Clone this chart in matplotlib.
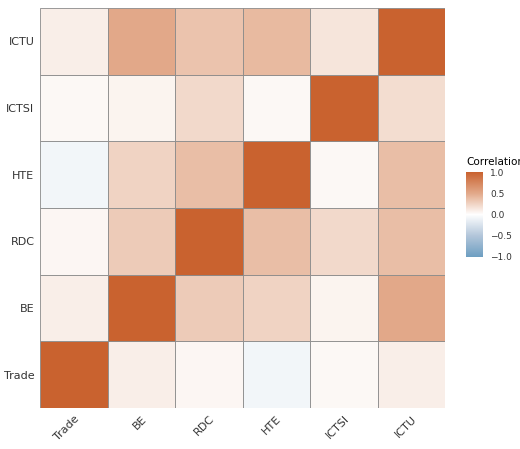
import numpy as np
import matplotlib
matplotlib.use("Agg")
import matplotlib.pyplot as plt
from matplotlib.colors import LinearSegmentedColormap

labels = ["Trade", "BE", "RDC", "HTE", "ICTSI", "ICTU"]
corr = np.array([
  [1.00, 0.10, 0.05, -0.08, 0.04, 0.10],
  [0.10, 1.00, 0.30, 0.25, 0.07, 0.50],
  [0.05, 0.30, 1.00, 0.38, 0.22, 0.38],
  [-0.08, 0.25, 0.38, 1.00, 0.04, 0.38],
  [0.04, 0.07, 0.22, 0.04, 1.00, 0.20],
  [0.10, 0.50, 0.35, 0.40, 0.15, 1.00],
])

# Lab-ish interpolation like ggplot: darker mid-tones
cmap = LinearSegmentedColormap.from_list(
  "corr", [(0, "#6D9EC1"), (0.25, "#B3C6DA"), (0.5, "white"),
           (0.75, "#E2A98A"), (1, "#C9622F")])

fig = plt.figure(figsize=(5.2, 4.49), dpi=100)
ax = fig.add_axes([40/520, 41/449, 405/520, 400/449])
n = len(labels)
for i in range(n):
  for j in range(n):
    ax.add_patch(plt.Rectangle((j, i), 1, 1, facecolor=cmap((corr[i, j] + 1) / 2),
                               edgecolor="#8a8a8a", linewidth=0.6))
ax.set_xlim(0, n)
ax.set_ylim(0, n)
ax.set_xticks(np.arange(n) + 0.5)
ax.set_yticks(np.arange(n) + 0.5)
ax.set_xticklabels(labels, rotation=45, ha="right", rotation_mode="anchor", fontsize=8, color="#333333")
ax.set_yticklabels(labels, fontsize=8, color="#333333")
ax.tick_params(length=0, pad=4)
for s in ax.spines.values():
  s.set_visible(False)

cax = fig.add_axes([466/520, (449-257)/449, 17/520, 85/449])
sm = plt.cm.ScalarMappable(cmap=cmap, norm=plt.Normalize(-1, 1))
cb = fig.colorbar(sm, cax=cax, ticks=[-1, -0.5, 0, 0.5, 1])
cb.ax.set_yticklabels(["\u22121.0", "\u22120.5", "0.0", "0.5", "1.0"], fontsize=6.5, color="#333333")
cb.outline.set_visible(False)
cb.ax.tick_params(length=3, color="white", pad=2)
fig.text(466/520, (449-162)/449, "Correlation", fontsize=7.5, va="center")

fig.savefig("out.png", dpi=100)
